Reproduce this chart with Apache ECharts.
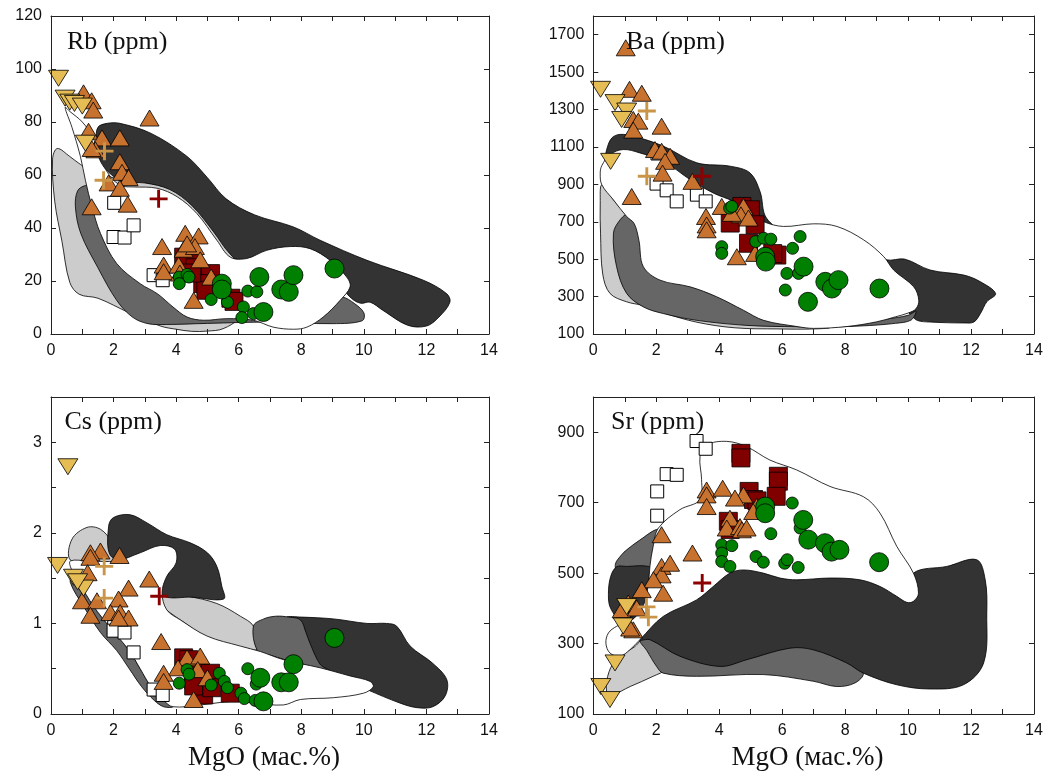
<!DOCTYPE html>
<html><head><meta charset="utf-8">
<script src="https://cdn.jsdelivr.net/npm/echarts@6/dist/echarts.min.js"></script>
<style>html,body{margin:0;padding:0;background:#fff}#c{width:1056px;height:777px}</style>
</head><body><div id="c"></div>
<script>
// ---------------- DATA ----------------
const xTicks = [0, 2, 4, 6, 8, 10, 12, 14];
const titles = ['Rb (ppm)', 'Ba (ppm)', 'Cs (ppm)', 'Sr (ppm)'];
const xName = 'MgO (мас.%)';

// Rb
const rbInvTri = [[0.24,96.5],[0.45,89],[0.6,87.5],[0.75,87],[1.0,86],[1.1,72]];
const rbTri = [[1.04,91],[1.3,88],[1.35,84.5],[1.2,76.5],[1.63,74],[1.42,69.5],[1.3,70],[2.2,74],[3.15,81.5],[2.2,65],[2.27,61],[2.48,59],[1.84,57],[2.2,55],[2.45,49],[1.3,48],[4.29,38],[4.72,37],[3.55,33],[4.24,32],[4.6,33],[4.35,34],[4.77,28],[3.6,26],[3.6,23.5],[4.08,26],[4.12,23],[5.12,21.5],[4.56,12.7]];
const rbTanCross = [[1.71,69],[1.68,58]];
const rbRedCross = [[3.44,51]];
const rbWhiteSq = [[2.02,49.5],[2.0,36.6],[2.35,36.4],[2.64,41],[3.28,22.2],[3.57,20.3]];
const rbRedSq = [[4.24,29],[4.4,27],[4.6,25],[4.88,21.5],[5.1,22.8],[4.85,19],[4.95,16.5],[5.75,13.5],[5.85,12.3],[4.5,23]];
const rbGreenS = [[4.1,21.5],[4.1,19],[4.35,22.5],[4.41,21.5],[5.12,13],[5.64,12],[6.29,16.2],[6.58,15.9],[6.15,10.2],[6.1,6.2],[6.47,7.7]];
const rbGreenL = [[5.46,19],[5.46,16.8],[6.66,21.5],[6.79,8.3],[7.36,16.8],[7.6,15.9],[7.75,22.2],[9.06,24.7]];
const rbFieldLight = [[0.05,66],[0.2,70],[0.6,67],[0.94,64],[1.4,61],[2.0,59],[2.6,58.5],[3.4,58],[4.2,54.5],[4.9,47],[5.4,39],[5.9,31.5],[6.2,26],[6.3,15],[6,6],[5.5,2],[5,1.1],[4.5,1],[4,1.8],[3.5,3],[2.5,8],[1.5,13.5],[0.9,15],[0.6,19.5],[0.35,35],[0.12,50]];
const rbFieldMid = [[0.85,54],[1.1,56],[1.6,56],[2.5,52],[3.5,40],[4.5,25],[6,15],[8,15],[9.3,14],[9.7,11.5],[10,8],[9.95,5],[9,3.9],[7,4.5],[5,4],[3.7,3.6],[3.1,3.9],[2.6,6.4],[2.1,12.7],[1.5,25],[0.95,38],[0.78,48]];
const rbFieldDark = [[1.5,78],[1.8,79.5],[2.2,79.5],[3.2,75.7],[4.35,67],[5.0,59],[5.6,51],[6.5,45],[7.75,40.4],[8.6,35.4],[10.1,27.8],[11.9,20.3],[12.65,15.2],[12.75,12],[12.4,6.4],[12.0,3],[11.4,3.3],[10.6,9],[10.2,12],[9.9,11.6],[9.6,13.5],[9.2,19],[8.8,25],[8,29.5],[7,27],[6.2,26],[5.7,30.5],[5.2,38.5],[4.5,48.5],[3.8,54.5],[3.0,57],[2.3,57.5],[1.8,61.5],[1.55,66],[1.45,73]];
const rbFieldWhite = [[0.45,85.5],[0.6,84],[1.0,80],[1.35,74],[1.55,66],[1.75,62],[2.0,58],[2.3,55.8],[2.64,55.5],[3.39,55],[4.03,51.8],[4.66,45.5],[5.3,35.4],[5.73,29],[6.26,28.5],[6.9,31.6],[7.65,33],[8.28,32.2],[8.92,27.8],[9.45,21.5],[9.56,17.8],[9.24,12.7],[8.7,6.4],[8.18,2.6],[7.75,1.8],[7.1,2.6],[6.47,5.2],[5.62,5.8],[4.88,5.2],[4.35,6.4],[3.9,10.2],[3.4,15.2],[2.85,19],[2.1,26.6],[1.58,38],[1.31,48],[1.1,58],[0.94,67],[0.67,78]];

// Ba
const baInvTri = [[0.23,1408],[0.69,1337],[1.06,1292],[0.9,1247],[0.55,1023]];
const baTri = [[1.03,1630],[1.15,1408],[1.54,1387],[1.27,1247],[1.43,1238],[1.27,1190],[2.17,1211],[1.96,1086],[2.17,1077],[2.44,1050],[2.28,1023],[2.2,960],[1.22,835],[3.15,916],[4.08,782],[3.58,728],[3.6,683],[3.6,657],[4.77,782],[4.69,737],[4.93,720],[4.56,513],[5.14,531],[4.4,745]];
const baTanCross = [[1.7,1292],[1.7,943]];
const baRedCross = [[3.45,943]];
const baWhiteSq = [[2.04,1065],[2.01,904],[2.33,868],[2.65,809],[3.29,845],[3.57,809]];
const baRedSq = [[4.72,782],[4.99,764],[4.35,693],[5.14,684],[4.93,585],[5.83,522],[5.7,530]];
const baGreenS = [[4.33,773],[4.4,782],[4.08,567],[4.08,531],[5.16,594],[5.41,612],[5.64,607],[6.57,621],[6.33,558],[6.15,424],[6.52,424],[6.1,335]];
const baGreenL = [[5.46,513],[5.48,487],[6.68,460],[6.82,272],[7.37,379],[7.58,343],[7.79,388],[9.09,343]];
const baFieldLight = [[0.27,898],[0.64,817],[1.06,728],[1.6,560],[2.5,420],[4,280],[6,180],[7.5,135],[7,127],[5.9,127],[4.5,133],[3.29,163],[2.23,213],[1.59,252],[1.06,272],[0.53,317],[0.3,420],[0.23,639],[0.22,800]];
const baFieldMid = [[0.64,639],[0.85,710],[1.1,740],[1.45,700],[1.65,500],[2.2,420],[3.1,380],[4,330],[4.9,260],[5.6,200],[6.6,165],[8,155],[9.3,180],[10.0,200],[10.25,222],[10.1,175],[9.6,157],[8.5,143],[7,136],[6.47,138],[4.88,146],[3.29,173],[2.23,209],[1.59,245],[1.06,317],[0.74,460]];
const baFieldDark = [[0.4,1040],[0.45,1100],[0.6,1150],[0.85,1167],[1.27,1158],[2.23,1104],[3.29,1015],[4.35,997],[4.98,961],[5.3,860],[5.5,720],[6.2,640],[7.5,620],[8.6,560],[9.3,497],[9.9,500],[10.7,442],[11.77,415],[12.3,379],[12.78,316],[12.5,272],[12.3,210],[12.09,164],[11.77,159],[10.7,164],[10.3,172],[10.1,200],[9.5,300],[8,350],[6.5,500],[5.3,600],[4.5,720],[3.5,820],[2.2,960],[1.2,1020],[0.6,1000]];
const baFieldWhite = [[0.22,960],[0.27,1000],[0.53,1059],[0.95,1086],[1.48,1068],[2.23,1023],[3.08,925],[3.82,853],[4.45,809],[5.0,750],[5.41,701],[6.04,675],[7.0,689],[7.74,675],[8.59,603],[9.23,513],[9.54,442],[10.18,352],[10.34,281],[10.25,235],[10.0,212],[9.6,192],[9.0,165],[8.06,140],[7.0,130],[6.47,140],[5.41,173],[4.77,227],[3.92,299],[3.08,352],[2.12,388],[1.59,460],[1.45,600],[1.3,690],[1.06,728],[0.64,817],[0.27,898]];

// Cs
const csInvTri = [[0.54,2.73],[0.21,1.64],[0.72,1.51],[1.04,1.39],[0.85,1.46]];
const csTri = [[1.58,1.8],[1.26,1.78],[1.26,1.73],[2.19,1.75],[1.17,1.56],[3.14,1.49],[2.48,1.39],[0.99,1.25],[1.47,1.25],[2.16,1.27],[1.9,1.12],[2.21,1.12],[2.48,1.06],[1.26,1.09],[2.16,1.06],[3.52,0.8],[4.35,0.62],[4.77,0.64],[4.06,0.51],[3.6,0.45],[3.6,0.36],[4.69,0.49],[4.56,0.16],[5.0,0.4]];
const csTanCross = [[1.7,1.63],[1.7,1.28]];
const csRedCross = [[3.46,1.3]];
const csWhiteSq = [[2.02,0.96],[2.0,0.92],[2.35,0.9],[2.64,0.68],[3.28,0.27],[3.57,0.21]];
const csRedSq = [[4.24,0.62],[4.4,0.6],[4.56,0.38],[4.77,0.45],[5.1,0.45],[4.88,0.21],[5.73,0.23],[4.56,0.31],[5.14,0.29]];
const csGreenS = [[4.1,0.34],[4.35,0.49],[4.41,0.44],[5.12,0.32],[5.38,0.45],[5.54,0.36],[5.64,0.29],[6.07,0.23],[6.18,0.17],[6.29,0.5],[6.56,0.33],[6.53,0.15]];
const csGreenL = [[6.69,0.4],[6.79,0.14],[7.36,0.35],[7.6,0.35],[7.75,0.55],[9.06,0.84]];
const csFieldLight = [[0.62,1.7],[0.67,1.93],[1.15,2.06],[1.58,2.04],[1.95,1.9],[2.5,1.6],[3.6,1.32],[4.35,1.3],[5.3,1.22],[6.05,1.08],[6.47,0.97],[6.63,0.72],[6.05,0.74],[5.0,0.85],[4.13,1.04],[3.5,1.2],[2.5,1.5],[1.5,1.65]];
const csFieldDarkA = [[1.84,2.07],[2.0,2.17],[2.53,2.2],[3.07,2.11],[3.7,1.98],[4.45,1.89],[5.0,1.78],[5.3,1.63],[5.46,1.41],[5.52,1.27],[4.5,1.29],[3.6,1.3],[3.0,1.5],[2.5,1.68],[1.9,1.75]];
const csFieldDarkB = [[7.54,1.07],[8.0,1.07],[9.03,1.05],[10.1,1.0],[10.73,1.0],[11.05,0.97],[11.48,0.75],[12.2,0.56],[12.65,0.38],[12.6,0.2],[12.2,0.08],[11.7,0.07],[11.16,0.12],[10.1,0.27],[9.14,0.42],[8.5,0.5],[8.2,0.7],[7.9,1.0]];
const csFieldMidA = [[0.62,1.45],[1.04,1.19],[1.58,0.9],[2.1,0.7],[2.5,0.5],[2.9,0.3],[3.3,0.15],[3.6,0.08],[3.9,0.08],[3.6,0.15],[3.2,0.3],[2.85,0.5],[2.5,0.7],[1.9,0.95],[1.36,1.19],[0.9,1.45],[0.7,1.55]];
const csFieldMidB = [[6.47,0.97],[6.8,1.05],[7.2,1.08],[7.6,1.07],[7.97,1.04],[8.15,0.9],[8.28,0.78],[8.6,0.55],[8.9,0.48],[8,0.55],[7.0,0.65],[6.6,0.7]];
const csFieldWhite = [[0.62,1.69],[1.2,1.69],[2.1,1.69],[2.85,1.78],[3.49,1.86],[3.95,1.82],[4.0,1.67],[3.7,1.52],[3.55,1.34],[3.7,1.15],[4.13,1.04],[4.99,0.86],[6.05,0.75],[6.69,0.69],[7.43,0.6],[8.6,0.51],[9.56,0.42],[10.2,0.36],[10.3,0.3],[9.99,0.23],[9.03,0.18],[7.97,0.16],[7.43,0.1],[6.5,0.12],[5.84,0.14],[4.77,0.1],[3.9,0.08],[3.6,0.15],[3.2,0.3],[2.85,0.5],[2.5,0.7],[1.9,0.95],[1.36,1.19],[0.9,1.45],[0.65,1.6]];

// Sr
const srInvTri = [[0.24,178],[0.53,141],[0.69,245],[0.95,350],[1.06,405]];
const srTri = [[2.17,609],[3.15,557],[3.6,736],[3.6,722],[3.6,689],[4.11,741],[4.34,656],[4.24,628],[4.66,632],[4.77,722],[4.5,713],[4.72,623],[4.87,628],[5.19,689],[5.08,675],[2.17,519],[2.17,495],[2.44,528],[1.91,481],[2.22,443],[1.54,453],[1.11,415],[0.9,396],[1.38,401],[1.27,339],[1.17,344]];
const srTanCross = [[1.69,404],[1.75,375]];
const srRedCross = [[3.46,472]];
const srWhiteSq = [[3.28,875],[3.57,853],[2.33,781],[2.65,779],[2.03,732],[2.03,663]];
const srRedSq = [[4.69,840],[4.69,827],[5.88,775],[5.88,761],[5.81,718],[4.95,732],[5.09,709],[5.2,705],[4.29,647],[4.35,624]];
const srGreenS = [[4.08,580],[4.08,557],[4.08,533],[4.34,519],[4.4,578],[5.17,547],[5.4,531],[5.64,612],[6.32,699],[6.08,528],[6.16,538],[6.51,516],[6.57,628]];
const srGreenL = [[5.46,689],[5.46,670],[6.67,651],[6.83,595],[7.36,585],[7.57,561],[7.82,566],[9.08,531]];
const srFieldLight = [[0.42,165],[0.5,220],[0.8,262],[1.3,290],[1.8,330],[2.4,280],[2.3,228],[1.9,207],[1.17,178],[0.6,155]];
const srFieldMidA = [[0.7,525],[0.9,552],[1.06,566],[1.48,594],[2.07,625],[2.2,600],[2.0,540],[1.5,500],[0.8,500]];
const srFieldMidB = [[1.48,311],[1.8,330],[2.5,350],[3.5,380],[5,330],[7,300],[8.2,260],[8.58,216],[8.31,188],[7.73,178],[6.99,193],[5.4,212],[3.28,207],[2.22,216],[2.01,235],[1.7,280]];
const srFieldDarkA = [[0.48,440],[0.55,490],[0.74,518],[1.06,519],[1.75,519],[1.95,500],[1.9,420],[1.5,380],[0.9,365],[0.55,400]];
const srFieldDarkB = [[1.48,311],[2.22,390],[3.28,440],[3.81,475],[4.34,510],[4.77,520],[5.4,512],[5.93,497],[6.46,492],[7.52,497],[8.47,492],[9.11,475],[9.64,446],[9.96,430],[10.17,500],[11.23,519],[12.18,538],[12.45,481],[12.5,387],[12.4,245],[11.76,183],[10.7,171],[9.64,183],[8.58,216],[8.05,245],[7.0,282],[6.25,287],[4.87,254],[4.03,235],[2.75,264],[1.8,311]];
const srFieldWhite = [[2.07,628],[2.75,680],[3.39,708],[3.44,765],[3.39,831],[3.6,864],[4.24,874],[4.87,859],[5.61,821],[6.46,793],[7.52,746],[8.58,717],[9.11,670],[9.64,576],[10.17,500],[10.33,443],[10.17,420],[9.96,417],[9.64,434],[9.11,462],[8.47,481],[7.52,486],[6.46,481],[5.93,486],[5.4,500],[4.77,509],[4.34,500],[3.81,462],[3.28,424],[2.22,377],[1.48,311],[1.17,283],[0.85,264],[0.53,273],[0.4,301],[0.48,330],[0.74,349],[1.0,358],[1.3,372],[1.6,410],[1.75,470],[1.8,520],[1.9,575]];

// ---------------- STYLE / LAYOUT ----------------
const C_LIGHT = '#cccccc', C_MID = '#666666', C_DARK = '#333333', C_WHITE = '#ffffff';
const grids = [
  {left: 51, top: 16, width: 438, height: 318},
  {left: 593.3, top: 16, width: 440.7, height: 318},
  {left: 51, top: 397, width: 438, height: 317},
  {left: 593.3, top: 397, width: 440.7, height: 317}
];
const yRanges = [
  {min: 0, max: 120, interval: 20, fmt: v => String(v)},
  {min: 100, max: 1800, interval: 200, fmt: v => (v <= 1700 ? String(v) : '')},
  {min: 0, max: 3.5, interval: 0.5, fmt: v => (Math.abs(v - Math.round(v)) < 1e-9 ? String(Math.round(v)) : '')},
  {min: 100, max: 1000, interval: 200, fmt: v => (v <= 900 ? String(v) : '')}
];
const fields = [
  [[rbFieldLight, C_LIGHT], [rbFieldMid, C_MID], [rbFieldDark, C_DARK], [rbFieldWhite, C_WHITE]],
  [[baFieldDark, C_DARK], [baFieldLight, C_LIGHT], [baFieldMid, C_MID], [baFieldWhite, C_WHITE]],
  [[csFieldLight, C_LIGHT], [csFieldDarkA, C_DARK], [csFieldDarkB, C_DARK], [csFieldMidA, C_MID], [csFieldMidB, C_MID], [csFieldWhite, C_WHITE]],
  [[srFieldLight, C_LIGHT], [srFieldMidA, C_MID], [srFieldMidB, C_MID], [srFieldDarkA, C_DARK], [srFieldDarkB, C_DARK], [srFieldWhite, C_WHITE]]
];
const marks = [
  [rbWhiteSq, rbRedSq, rbTri, rbInvTri, rbGreenS, rbGreenL, rbTanCross, rbRedCross],
  [baWhiteSq, baRedSq, baTri, baInvTri, baGreenS, baGreenL, baTanCross, baRedCross],
  [csWhiteSq, csRedSq, csTri, csInvTri, csGreenS, csGreenL, csTanCross, csRedCross],
  [srWhiteSq, srRedSq, srTri, srInvTri, srGreenS, srGreenL, srTanCross, srRedCross]
];
const PLUS = 'path://M4.2,0H5.8V4.2H10V5.8H5.8V10H4.2V5.8H0V4.2H4.2Z';
const markStyles = [
  {symbol: 'rect', size: 13, color: '#ffffff', bw: 1},
  {symbol: 'rect', size: 18, color: '#800000', bw: 0.8},
  {symbol: 'triangle', size: [19, 16], color: '#c8722f', bw: 0.8},
  {symbol: 'triangle', size: [20, 16], color: '#e6bd55', bw: 0.8, rot: 180},
  {symbol: 'circle', size: 12, color: '#008000', bw: 0.8},
  {symbol: 'circle', size: 19, color: '#008000', bw: 0.8},
  {symbol: PLUS, size: 18, color: '#c99649', bw: 0},
  {symbol: PLUS, size: 18, color: '#8b0000', bw: 0}
];

const FONT_SANS = '"Liberation Sans", Arial, sans-serif';
const FONT_SERIF = '"Liberation Serif", "Times New Roman", serif';

const xAxes = [], yAxes = [], series = [];
grids.forEach((g, i) => {
  const common = {gridIndex: i, type: 'value', min: 0, max: 14, interval: 1, z: 50,
    axisLine: {show: true, onZero: false, lineStyle: {color: '#222', width: 1}},
    axisTick: {show: true, inside: true, length: 5, lineStyle: {color: '#222', width: 1}},
    splitLine: {show: false}};
  xAxes.push(Object.assign({}, common, {position: 'bottom',
    axisLabel: {show: true, margin: 9, fontSize: 16, color: '#111', fontFamily: FONT_SANS,
      formatter: v => (xTicks.indexOf(v) >= 0 ? String(v) : '')}}));
  xAxes.push(Object.assign({}, common, {position: 'top', axisLabel: {show: false}}));
  const yr = yRanges[i];
  const ycommon = {gridIndex: i, type: 'value', min: yr.min, max: yr.max, interval: yr.interval, z: 50,
    axisLine: {show: true, onZero: false, lineStyle: {color: '#222', width: 1}},
    axisTick: {show: true, inside: true, length: 5, lineStyle: {color: '#222', width: 1}},
    splitLine: {show: false}};
  yAxes.push(Object.assign({}, ycommon, {position: 'left',
    axisLabel: {show: true, margin: 9, fontSize: 16, color: '#111', fontFamily: FONT_SANS, formatter: yr.fmt}}));
  yAxes.push(Object.assign({}, ycommon, {position: 'right', axisLabel: {show: false}}));

  fields[i].forEach((f, k) => {
    const pts = f[0], fill = f[1];
    series.push({
      type: 'custom', coordinateSystem: 'cartesian2d', xAxisIndex: 2 * i, yAxisIndex: 2 * i,
      clip: true, silent: true, z: 1 + k, data: pts,
      renderItem: function (params, api) {
        if (params.dataIndex !== 0) return null;
        const points = pts.map(p => api.coord(p));
        return {type: 'polygon', shape: {points: points, smooth: 0.35},
          style: {fill: fill, stroke: '#000', lineWidth: 0.8}};
      }
    });
  });
  marks[i].forEach((d, k) => {
    const s = markStyles[k];
    series.push({
      type: 'scatter', xAxisIndex: 2 * i, yAxisIndex: 2 * i, z: 20 + k, silent: true,
      symbol: s.symbol, symbolSize: s.size, symbolRotate: s.rot || 0,
      itemStyle: {color: s.color, borderColor: '#000', borderWidth: s.bw, opacity: 1},
      data: d
    });
  });
});

const titlePos = [[67, 42.5], [626, 42], [64.5, 422], [611, 422]];
const graphics = titles.map((t, i) => ({
  type: 'text', x: titlePos[i][0], y: titlePos[i][1], z: 100,
  style: {text: t, font: '26px ' + FONT_SERIF, fill: '#111', textAlign: 'left', textVerticalAlign: 'middle'}
}));
[[264, 758], [807.5, 758]].forEach(p => graphics.push({
  type: 'text', x: p[0], y: p[1], z: 100,
  style: {text: xName, font: '27px ' + FONT_SERIF, fill: '#111', textAlign: 'center', textVerticalAlign: 'middle'}
}));

const chart = echarts.init(document.getElementById('c'), null, {renderer: 'canvas'});
chart.setOption({
  animation: false,
  backgroundColor: '#ffffff',
  grid: grids,
  xAxis: xAxes,
  yAxis: yAxes,
  series: series,
  graphic: graphics
});
</script></body></html>
